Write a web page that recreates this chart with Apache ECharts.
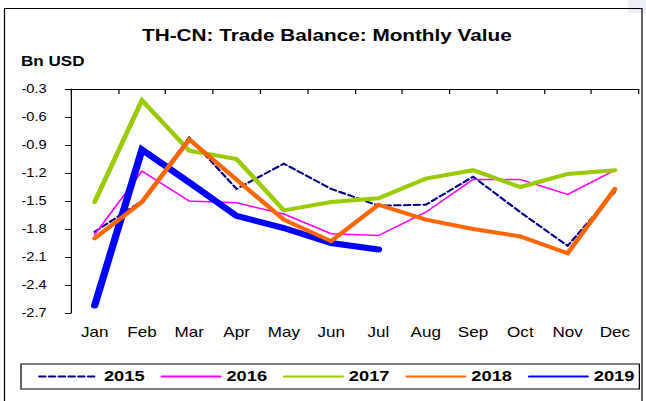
<!DOCTYPE html>
<html>
<head>
<meta charset="utf-8">
<script src="https://cdn.jsdelivr.net/npm/echarts@6/dist/echarts.min.js"></script>
<style>
  html, body { margin: 0; padding: 0; background: #fff; overflow: hidden; }
  /* the chart is laid out on a narrower canvas and widened to the page */
  #chart { width: 529.5px; height: 401px; transform: scaleX(1.22); transform-origin: 0 0; }
</style>
</head>
<body>
<div id="chart"></div>
<script>
const months = ['Jan', 'Feb', 'Mar', 'Apr', 'May', 'Jun', 'Jul', 'Aug', 'Sep', 'Oct', 'Nov', 'Dec'];
const years = ['2015', '2016', '2017', '2018', '2019'];
const y2015 = [-1.83, -1.50, -0.82, -1.37, -1.10, -1.37, -1.55, -1.54, -1.24, -1.62, -1.98, -1.40];
const y2016 = [-1.86, -1.18, -1.50, -1.52, -1.64, -1.85, -1.87, -1.62, -1.27, -1.27, -1.43, -1.17];
const y2017 = [-1.51, -0.42, -0.96, -1.05, -1.60, -1.51, -1.47, -1.26, -1.17, -1.35, -1.21, -1.17];
const y2018 = [-1.90, -1.51, -0.84, -1.27, -1.70, -1.93, -1.54, -1.70, -1.80, -1.88, -2.06, -1.37];
const y2019 = [-2.62, -0.95, -1.30, -1.66, -1.79, -1.95, -2.02];
const yMin = -2.7, yMax = -0.3, yStep = 0.3;

const FONT = 'Liberation Sans, Arial, sans-serif';
const SX = 1.22; // horizontal widening applied by CSS

const chart = echarts.init(document.getElementById('chart'), null, { renderer: 'svg' });

function lineSeries(name, data, color, width, type, z) {
  return {
    name, type: 'line', data, xAxisIndex: 0, yAxisIndex: 0,
    symbol: 'none', z,
    lineStyle: { color, width, type, cap: 'round', join: 'miter' },
    itemStyle: { color },
    emphasis: { disabled: true }
  };
}

chart.setOption({
  animation: false,
  backgroundColor: '#fff',
  textStyle: { fontFamily: FONT },
  title: [
    { text: 'TH-CN: Trade Balance: Monthly Value', left: 142 / SX, top: 27, padding: 0,
      textStyle: { fontFamily: FONT, fontSize: 17, fontWeight: 'bold', color: '#000' } },
    { text: 'Bn USD', left: 21 / SX, top: 54, padding: 0,
      textStyle: { fontFamily: FONT, fontSize: 14, fontWeight: 'bold', color: '#000' } }
  ],
  grid: { left: 71 / SX, right: 8 / SX, top: 89, bottom: 88, containLabel: false },
  xAxis: [
    { type: 'category', data: months, position: 'top', boundaryGap: true,
      axisLine: { show: true, lineStyle: { color: '#000', width: 1 } },
      axisTick: { show: true, inside: true, length: 5, lineStyle: { color: '#000' } },
      axisLabel: { show: false }, splitLine: { show: false } },
    { type: 'category', data: months, position: 'bottom', boundaryGap: true, gridIndex: 0,
      axisLine: { show: false }, axisTick: { show: false },
      axisLabel: { show: true, margin: 12, color: '#000', fontSize: 14, fontFamily: FONT },
      splitLine: { show: false } }
  ],
  yAxis: {
    type: 'value', min: yMin, max: yMax, interval: yStep,
    axisLine: { show: true, lineStyle: { color: '#000', width: 1 } },
    axisTick: { show: true, length: 5, lineStyle: { color: '#000' } },
    axisLabel: { color: '#000', fontSize: 12, fontFamily: FONT, margin: 20,
      formatter: v => v.toFixed(1) },
    splitLine: { show: false }
  },
  legend: {
    data: years, left: 21 / SX, top: 364, orient: 'horizontal',
    itemWidth: 48, itemHeight: 16, itemGap: 13,
    padding: [5, 4, 5, 14],
    borderColor: '#000', borderWidth: 1,
    selectedMode: false,
    itemStyle: { color: 'rgba(0,0,0,0)', borderWidth: 0, opacity: 0 },
    textStyle: { fontFamily: FONT, fontSize: 15, fontWeight: 'bold', color: '#000' }
  },
  graphic: [
    { type: 'rect', silent: true, z: -1,
      shape: { x: 4.5 / SX, y: 8.5, width: (642 - 4.5) / SX, height: 420 },
      style: { fill: 'none', stroke: '#000', lineWidth: 1 } },
    { type: 'rect', silent: true, z: -2,
      shape: { x: 628 / SX, y: 0, width: 18 / SX, height: 13 },
      style: { fill: '#eceef8' } }
  ],
  series: [
    lineSeries('2015', y2015, '#000080', 2, [5, 3], 2),
    lineSeries('2016', y2016, '#FF00FF', 1.5, 'solid', 3),
    lineSeries('2017', y2017, '#99CC00', 4, 'solid', 4),
    lineSeries('2019', y2019, '#0000FF', 6, 'solid', 5),
    lineSeries('2018', y2018, '#FF6600', 4, 'solid', 6)
  ]
});
</script>
</body>
</html>
